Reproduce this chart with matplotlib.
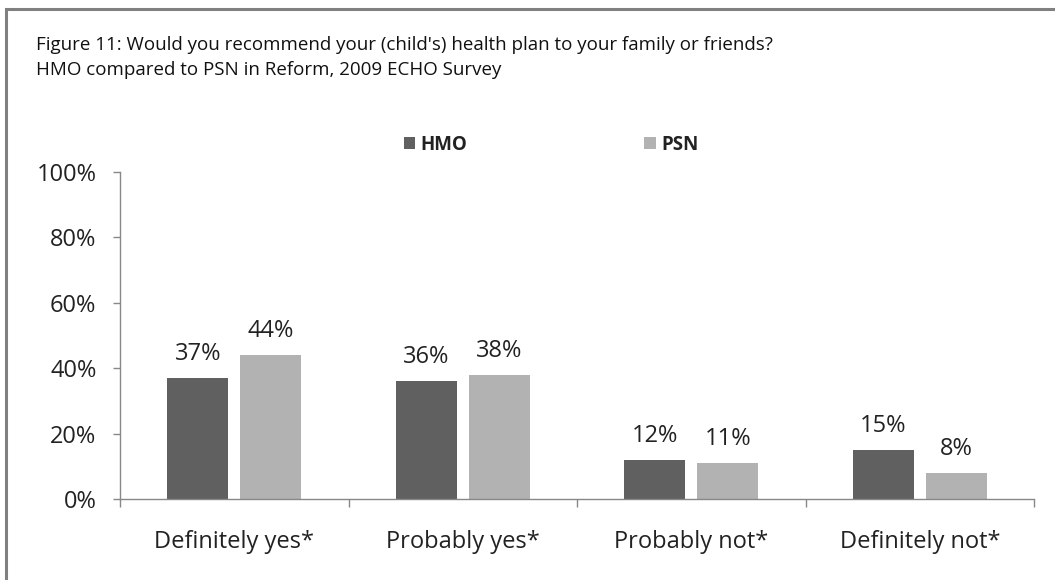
import matplotlib
matplotlib.use("Agg")
import matplotlib.pyplot as plt
from matplotlib.patches import Rectangle
from matplotlib.ticker import FuncFormatter, FixedLocator
import numpy as np

categories = ["Definitely yes*", "Probably yes*", "Probably not*", "Definitely not*"]
hmo = [37, 36, 12, 15]
psn = [44, 38, 11, 8]
series_names = ["HMO", "PSN"]
title_lines = ["Figure 11: Would you recommend your (child's) health plan to your family or friends?",
               "HMO compared to PSN in Reform, 2009 ECHO Survey"]

FONT = "Open Sans"
plt.rcParams['font.family'] = [FONT, 'DejaVu Sans']

W, H = 1055, 580
fig = plt.figure(figsize=(W / 100, H / 100), dpi=100)

# outer frame (right/bottom edges cropped off in the reference)
fig.patches.append(Rectangle((6 / W, -0.1), 1.2, 1 - 9 / H + 0.1, transform=fig.transFigure,
                             fill=False, edgecolor="#808080", linewidth=2.2))

ax = fig.add_axes([120 / W, 1 - 499 / H, (1034 - 120) / W, (499 - 172) / H])

x = np.arange(len(categories))
bw = 0.267
off = 0.16
c_hmo = "#606060"
c_psn = "#b2b2b2"
b1 = ax.bar(x - off, [v / 100 for v in hmo], bw, color=c_hmo, label=series_names[0])
b2 = ax.bar(x + off, [v / 100 for v in psn], bw, color=c_psn, label=series_names[1])

for bars, vals in ((b1, hmo), (b2, psn)):
    for rect, v in zip(bars, vals):
        ax.annotate(f"{v}%", (rect.get_x() + rect.get_width() / 2, rect.get_height()),
                    xytext=(0, 13), textcoords="offset points", ha="center", va="baseline",
                    fontsize=17, color="#222222")

ax.set_xlim(-0.5, len(categories) - 0.5)
ax.set_ylim(0, 1.0)
ax.set_yticks(np.linspace(0, 1, 6))
ax.yaxis.set_major_formatter(FuncFormatter(lambda v, p: f"{v * 100:.0f}%"))
ax.xaxis.set_major_locator(FixedLocator(np.arange(-0.5, len(categories), 1.0)))
ax.set_xticklabels([])
ax.xaxis.set_minor_locator(FixedLocator(x))
ax.set_xticklabels(categories, minor=True)
ax.tick_params(axis="x", which="major", direction="out", length=6, color="#888888", width=1)
ax.tick_params(axis="x", which="minor", length=0, pad=22, labelsize=17, labelcolor="#222222")
ax.tick_params(axis="y", direction="out", length=5, color="#888888", width=1, pad=12,
               labelsize=17, labelcolor="#222222")
for s in ("top", "right"):
    ax.spines[s].set_visible(False)
for s in ("left", "bottom"):
    ax.spines[s].set_color("#888888")
    ax.spines[s].set_linewidth(1)

leg = ax.legend(ncol=2, loc="center", bbox_to_anchor=(551 / W, 1 - 145 / H),
                bbox_transform=fig.transFigure, frameon=False, fontsize=13.5,
                handlelength=0.62, handleheight=0.62, handletextpad=0.3, columnspacing=9.4)
for t in leg.get_texts():
    t.set_fontweight("bold")
    t.set_color("#222222")

fig.text(36 / W, 1 - 45 / H, title_lines[0], fontsize=13.5, color="#111111", va="center", ha="left")
fig.text(36 / W, 1 - 70 / H, title_lines[1], fontsize=13.5, color="#111111", va="center", ha="left")

fig.savefig("out.png", dpi=100, facecolor="white")
